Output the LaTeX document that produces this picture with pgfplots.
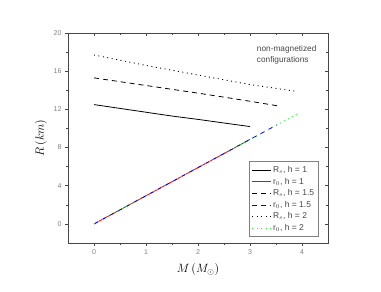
\documentclass[border=0pt]{standalone}
\usepackage{fontspec}
\setmainfont{Liberation Sans}
\usepackage{pgfplots}
\pgfplotsset{compat=1.18}
\definecolor{axgray}{RGB}{70,70,70}
\definecolor{lime}{RGB}{60,230,60}
\begin{document}
\begin{tikzpicture}
\useasboundingbox (-68pt,-49pt) rectangle (313pt,243pt);
\begin{axis}[
  scale only axis, width=260pt, height=210pt,
  xmin=-0.5, xmax=4.5, ymin=-2, ymax=20,
  xtick={0,1,2,3,4}, ytick={0,4,8,12,16,20},
  minor x tick num=1, minor y tick num=1,
  tick align=inside, xtick pos=top, ytick pos=right,
  xticklabels={}, yticklabels={},
  axis line style={draw=none},
  tick style={axgray, line width=0.6pt},
  major tick length=3pt, minor tick length=2pt,
]
\end{axis}
\begin{axis}[
  scale only axis, width=260pt, height=210pt,
  xmin=-0.5, xmax=4.5, ymin=-2, ymax=20,
  xtick={0,1,2,3,4}, ytick={0,4,8,12,16,20},
  minor x tick num=1, minor y tick num=1,
  tick align=outside,
  xtick pos=bottom, ytick pos=left,
  axis line style={axgray, line width=0.7pt},
  tick style={axgray, line width=0.6pt},
  major tick length=3pt, minor tick length=2pt,
  ticklabel style={font=\scriptsize, text=gray},
  /pgf/number format/assume math mode=true,
  xlabel={\large $M\,(M_\odot)$},
  ylabel={\large $R\,(km)$},
  xlabel style={yshift=-2pt},
  legend style={at={(0.965,0.029)}, anchor=south east, font=\fontsize{8.5}{10}\selectfont,
    draw=gray, line width=0.5pt, row sep=0pt, inner sep=2.5pt, text=axgray},
  legend cell align=left,
  legend image code/.code={\draw[#1] (0cm,0cm) -- (0.65cm,0cm);},
  clip=false,
]
\addplot[black, line width=0.8pt] coordinates {(0,12.5) (0.5,12.1) (1,11.7) (1.5,11.3) (2,10.95) (2.5,10.57) (3,10.2)};
\addlegendentry{R$_s$, h = 1}
\addplot[red, line width=0.8pt] coordinates {(0,0) (0.5,1.47) (1,2.95) (1.5,4.42) (2,5.9) (2.5,7.37) (3,8.85)};
\addlegendentry{r$_0$, h = 1}
\addplot[black, line width=0.8pt, dash pattern=on 5pt off 4pt] coordinates {(0,15.3) (0.5,14.9) (1,14.5) (1.5,14.1) (2,13.7) (2.5,13.28) (3,12.85) (3.52,12.38)};
\addlegendentry{R$_s$, h = 1.5}
\addplot[blue, line width=0.8pt, dash pattern=on 5pt off 4pt] coordinates {(0,0) (0.5,1.47) (1,2.95) (1.5,4.42) (2,5.9) (2.5,7.37) (3,8.85) (3.52,10.38)};
\addlegendentry{r$_0$, h = 1.5}
\addplot[black, line width=0.9pt, dash pattern=on 1pt off 3.5pt] coordinates {(0,17.7) (0.5,17.15) (1,16.6) (1.5,16.1) (2,15.6) (2.5,15.1) (3,14.6) (3.5,14.2) (3.87,13.9)};
\addlegendentry{R$_s$, h = 2}
\addplot[lime, line width=0.9pt, dash pattern=on 1pt off 3.5pt] coordinates {(0,0) (0.5,1.47) (1,2.95) (1.5,4.42) (2,5.9) (2.5,7.37) (3,8.85) (3.5,10.32) (3.9,11.5)};
\addlegendentry{r$_0$, h = 2}
\node[anchor=west, align=left, font=\fontsize{8.3}{10.5}\selectfont, text=axgray, inner sep=0pt] at (axis cs:3.13,17.7) {non-magnetized\\configurations};
\end{axis}
\end{tikzpicture}
\end{document}
